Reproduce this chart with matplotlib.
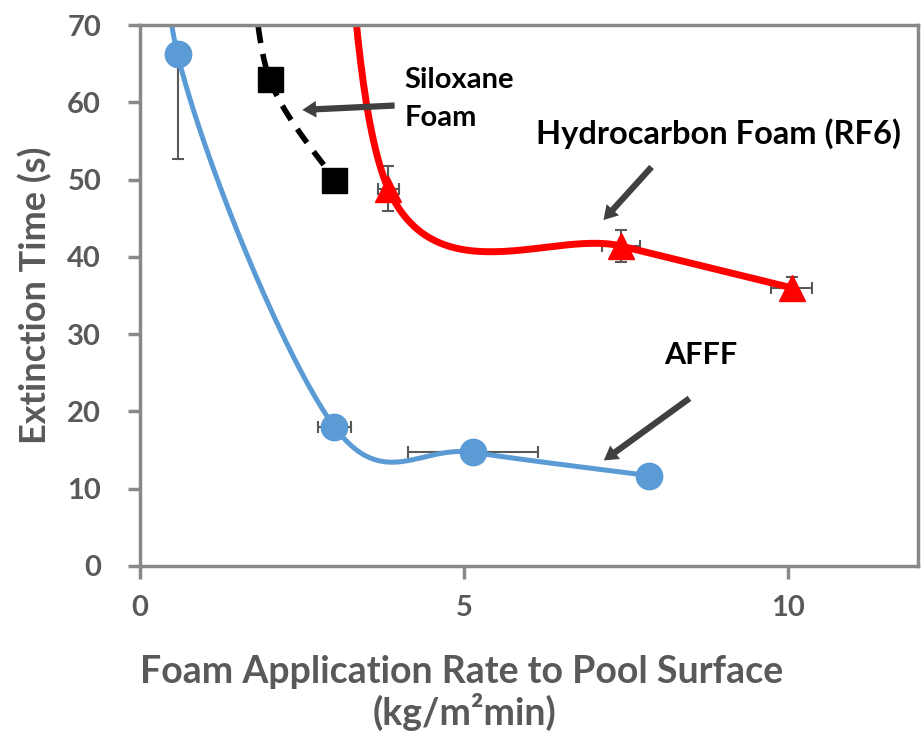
import numpy as np
import matplotlib
matplotlib.use('Agg')
import matplotlib.pyplot as plt

plt.rcParams['font.family'] = ['Lato', 'DejaVu Sans']

# AFFF (blue circles)
afff_x = [0.58, 3.0, 5.14, 7.85]
afff_y = [66.2, 18.0, 14.7, 11.7]
afff_xerr = [0.0, 0.26, 1.0, 0.0]
afff_yerr_lo = [13.6, 0.0, 0.0, 0.0]
afff_yerr_hi = [0.0, 0.0, 0.0, 0.0]
# Hydrocarbon foam RF6 (red triangles)
rf6_x = [3.83, 7.42, 10.05]
rf6_y = [48.8, 41.4, 36.0]
rf6_xerr = [0.16, 0.3, 0.32]
rf6_yerr = [2.9, 2.1, 1.4]
# Siloxane foam (black squares)
sil_x = [2.0, 3.0]
sil_y = [63.0, 50.0]
# points of the smoothed trend lines that lie above the plotted range
afff_top = (0.62, 100.0)
rf6_top = (3.0, 125.0)
sil_top = (1.7, 80.0)

SX, SY = 65.0, 7.73  # pixel per data unit, used for smoothing like Excel


def excel_smooth(xs, ys, n=60):
    P = np.column_stack([np.asarray(xs) * SX, np.asarray(ys) * SY])
    out = []
    for i in range(len(P) - 1):
        p0 = P[i - 1] if i > 0 else P[i]
        p3 = P[i + 2] if i + 2 < len(P) else P[i + 1]
        c1 = P[i] + (P[i + 1] - p0) / 6
        c2 = P[i + 1] - (p3 - P[i]) / 6
        t = np.linspace(0, 1, n)[:, None]
        b = ((1 - t) ** 3) * P[i] + 3 * ((1 - t) ** 2) * t * c1 + 3 * (1 - t) * t ** 2 * c2 + t ** 3 * P[i + 1]
        out.append(b)
    out = np.vstack(out)
    return out[:, 0] / SX, out[:, 1] / SY


fig = plt.figure(figsize=(9.21, 7.32), dpi=100)
ax = fig.add_axes([0.152, 0.2268, 0.8447, 0.739])

gray = '#595959'
blue = '#5B9BD5'

cx, cy = excel_smooth([afff_top[0]] + afff_x, [afff_top[1]] + afff_y)
ax.plot(cx, cy, color=blue, lw=3.6, zorder=2, solid_capstyle='round')
cx, cy = excel_smooth([rf6_top[0]] + rf6_x, [rf6_top[1]] + rf6_y)
ax.plot(cx, cy, color='#FF0000', lw=5, zorder=2)
cx, cy = excel_smooth([sil_top[0]] + sil_x, [sil_top[1]] + sil_y)
ax.plot(cx, cy, color='black', lw=4, ls=(0, (3, 2)), zorder=2)

ax.errorbar(afff_x, afff_y, xerr=afff_xerr, yerr=[afff_yerr_lo, afff_yerr_hi], fmt='none',
            ecolor=gray, elinewidth=1.5, capsize=4, capthick=1.5, zorder=1)
ax.errorbar(rf6_x, rf6_y, xerr=rf6_xerr, yerr=rf6_yerr, fmt='none',
            ecolor=gray, elinewidth=1.5, capsize=4, capthick=1.5, zorder=1)

ax.plot(afff_x, afff_y, 'o', color=blue, ms=19, mec=blue, zorder=3, clip_on=False)
ax.plot(rf6_x, rf6_y, '^', color='#FF0000', ms=19, mec='#FF0000', zorder=3)
ax.plot(sil_x, sil_y, 's', color='black', ms=18, zorder=3)

ax.set_xlim(0, 12)
ax.set_ylim(0, 70)
ax.set_xticks([0, 5, 10])
ax.set_yticks(range(0, 71, 10))
for s in ax.spines.values():
    s.set_color('#888888')
    s.set_linewidth(2.5)
ax.tick_params(axis='both', colors='#888888', width=2.5, labelcolor=gray, labelsize=21)
ax.tick_params(axis='x', length=9, pad=12)
ax.tick_params(axis='y', length=9, pad=19)
for lab in ax.get_xticklabels() + ax.get_yticklabels():
    lab.set_fontweight('bold')

fig.text(35 / 921, 1 - 295 / 732, 'Extinction Time (s)', rotation=90, fontsize=26,
         fontweight='bold', color=gray, ha='center', va='center')
fig.text(462 / 921, 1 - 672 / 732, 'Foam Application Rate to Pool Surface', fontsize=27,
         fontweight='bold', color=gray, ha='center', va='center')
fig.text(464 / 921, 1 - 712 / 732, '(kg/m\u00b2min)', fontsize=27,
         fontweight='bold', color=gray, ha='center', va='center')

# annotations
ax.text(4.08, 62.9, 'Siloxane', fontsize=21, fontweight='bold', color='black',
        va='center', ha='left')
ax.text(4.08, 58.0, 'Foam', fontsize=21, fontweight='bold', color='black',
        va='center', ha='left')
ax.text(6.11, 56.0, 'Hydrocarbon Foam (RF6)', fontsize=23.5, fontweight='bold', color='black',
        va='center', ha='left')
ax.text(8.08, 27.3, 'AFFF', fontsize=22, fontweight='bold', color='black', va='center', ha='left')

arrow = dict(arrowstyle='simple,head_length=1.0,head_width=1.2,tail_width=0.45',
             color='#404040', lw=0)
ax.annotate('', xy=(2.46, 59.0), xytext=(3.97, 59.6), arrowprops=arrow)
ax.annotate('', xy=(7.12, 44.5), xytext=(7.92, 51.9), arrowprops=arrow)
ax.annotate('', xy=(7.12, 13.45), xytext=(8.51, 21.9), arrowprops=arrow)

fig.savefig('out.png', dpi=100)
